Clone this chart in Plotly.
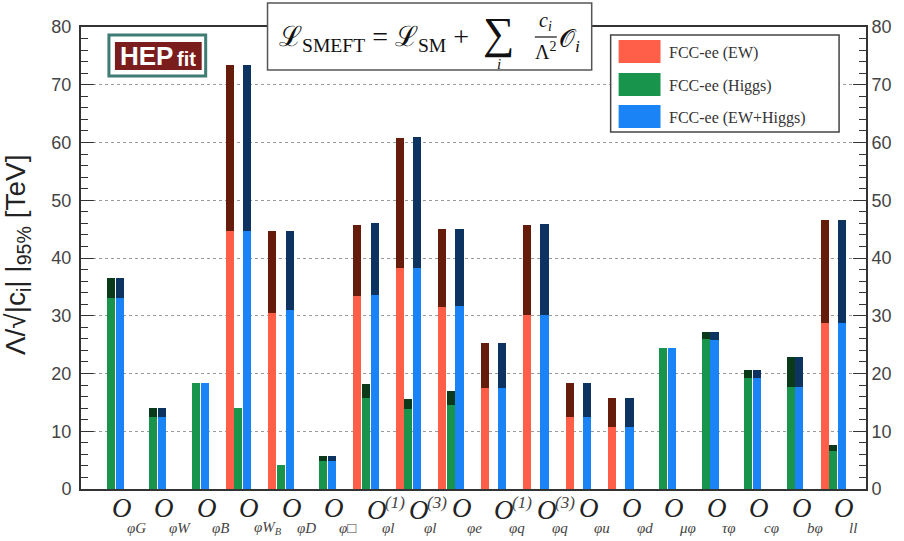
import plotly.graph_objects as go

# ---------------- data ----------------
categories = ["φG", "φW", "φB", "φWB", "φD", "φ□", "φl(1)", "φl(3)", "φe",
              "φq(1)", "φq(3)", "φu", "φd", "μφ", "τφ", "cφ", "bφ", "ll"]
label_sub = ["φG", "φW", "φB", "φW<sub>B</sub>", "φD", "φ□", "φl", "φl", "φe",
             "φq", "φq", "φu", "φd", "μφ", "τφ", "cφ", "bφ", "ll"]
label_sup = ["", "", "", "", "", "", "(1)", "(3)", "", "(1)", "(3)", "", "", "", "", "", "", ""]

ew_base = [0, 0, 0, 44.7, 30.5, 0, 33.4, 38.2, 31.5, 17.5, 30.2, 12.4, 10.7, 0, 0, 0, 0, 28.7]
ew_full = [0, 0, 0, 73.4, 44.6, 0, 45.7, 60.7, 45.0, 25.2, 45.8, 18.3, 15.8, 0, 0, 0, 0, 46.5]
higgs_base = [33.0, 12.5, 18.3, 14.0, 4.2, 4.9, 15.7, 13.8, 14.5, 0, 0, 0, 0, 24.5, 25.9, 19.3, 17.7, 6.5]
higgs_full = [36.5, 14.0, 18.3, 14.0, 4.2, 5.7, 18.1, 15.5, 16.9, 0, 0, 0, 0, 24.5, 27.2, 20.6, 22.9, 7.6]
comb_base = [33.0, 12.5, 18.3, 44.7, 31.0, 4.9, 33.6, 38.2, 31.7, 17.5, 30.2, 12.4, 10.7, 24.5, 25.8, 19.3, 17.7, 28.8]
comb_full = [36.5, 14.0, 18.3, 73.4, 44.6, 5.7, 46.0, 61.0, 45.1, 25.3, 45.9, 18.3, 15.8, 24.5, 27.2, 20.6, 22.9, 46.5]

series_names = ["FCC-ee (EW)", "FCC-ee (Higgs)", "FCC-ee (EW+Higgs)"]
y_ticks = [0, 10, 20, 30, 40, 50, 60, 70, 80]

# ---------------- style ----------------
W, H = 904, 541
ML, MR, MT, MB = 81, 36, 27, 52
PW, PH = W - ML - MR, H - MT - MB

light_cols = ["#FF5F48", "#19944C", "#1A84F7"]
dark_cols = ["#661C0A", "#0B3A1A", "#0D3461"]
bar_w = 0.19
offsets = [-0.299, -0.095, 0.109]

def px_x(p):
    return (p - ML) / PW

def px_y(p):
    return (H - MB - p) / PH

xs = list(range(len(categories)))
fig = go.Figure()

for k, (base, full) in enumerate([(ew_base, ew_full), (higgs_base, higgs_full), (comb_base, comb_full)]):
    fig.add_trace(go.Bar(x=xs, y=full, width=bar_w, offset=offsets[k],
                         marker=dict(color=dark_cols[k], line=dict(width=0)),
                         showlegend=False, hoverinfo="skip"))
    fig.add_trace(go.Bar(x=xs, y=base, width=bar_w, offset=offsets[k],
                         marker=dict(color=light_cols[k], line=dict(width=0)),
                         name=series_names[k], showlegend=False))

# invisible trace for the right axis
fig.add_trace(go.Scatter(x=[0], y=[0], yaxis="y2", mode="markers",
                         marker=dict(opacity=0), showlegend=False, hoverinfo="skip"))

axis_font = dict(family="Liberation Sans, Arial, sans-serif", size=18, color="#444")
yax_common = dict(range=[0, 80], tickvals=y_ticks, ticks="inside", ticklen=13, tickwidth=1,
                  tickcolor="#333", showline=True, linewidth=2, linecolor="#333",
                  zeroline=False, tickfont=axis_font,
                  minor=dict(dtick=2, ticks="inside", ticklen=7, tickwidth=1, tickcolor="#333",
                             showgrid=False))

fig.update_layout(
    width=W, height=H,
    margin=dict(l=ML, r=MR, t=MT, b=MB),
    paper_bgcolor="white", plot_bgcolor="white",
    barmode="overlay", bargap=0,
    xaxis=dict(range=[-0.704, 17.77], showticklabels=False, ticks="", showgrid=False,
               zeroline=False, showline=True, linewidth=2, linecolor="#333", mirror=True),
    yaxis=dict(**yax_common, showgrid=True, gridcolor="#9a9a9a", griddash="dot", gridwidth=1,
               ticklabelstandoff=4),
    yaxis2=dict(**yax_common, overlaying="y", side="right", showgrid=False),
)

shapes = []
ann = []

# ---- x labels ----
for i in xs:
    has_sup = label_sup[i] != ""
    oy = 510 if has_sup else 508
    ann.append(dict(x=i, y=px_y(oy), xref="x", yref="paper", text="<i>O</i>", showarrow=False,
                    xanchor="left", yanchor="middle", xshift=-1,
                    font=dict(family="Liberation Serif, serif", size=27, color="#222")))
    ann.append(dict(x=i, y=px_y(528), xref="x", yref="paper", text="<i>" + label_sub[i] + "</i>",
                    showarrow=False, xanchor="left", yanchor="middle", xshift=14,
                    font=dict(family="Liberation Serif, serif", size=15, color="#444")))
    if has_sup:
        ann.append(dict(x=i, y=px_y(502), xref="x", yref="paper", text="<i>" + label_sup[i] + "</i>",
                        showarrow=False, xanchor="left", yanchor="middle", xshift=17,
                        font=dict(family="Liberation Serif, serif", size=17, color="#444")))

# ---- y title ----
ann.append(dict(x=px_x(17), y=px_y(255), xref="paper", yref="paper", textangle=-90,
                text="Λ/√|c<sub>i</sub>| |<sub>95%</sub> [TeV]", showarrow=False,
                xanchor="center", yanchor="middle",
                font=dict(family="Liberation Sans, Arial, sans-serif", size=28, color="#222")))

# ---- formula box ----
shapes.append(dict(type="rect", xref="paper", yref="paper", x0=px_x(268), x1=px_x(593),
                   y0=px_y(70), y1=px_y(3), line=dict(color="#555", width=1.5),
                   fillcolor="white", layer="above"))
serif = "Liberation Serif, DejaVu Serif, serif"
ann.append(dict(x=px_x(277), y=px_y(38), xref="paper", yref="paper", showarrow=False,
                xanchor="left", yanchor="middle",
                text="ℒ<sub>SMEFT</sub> = ℒ<sub>SM</sub> +",
                font=dict(family=serif, size=28, color="#111")))
ann.append(dict(x=px_x(500), y=px_y(33), xref="paper", yref="paper", showarrow=False,
                xanchor="center", yanchor="middle", text="∑",
                font=dict(family=serif, size=44, color="#111")))
ann.append(dict(x=px_x(500), y=px_y(64), xref="paper", yref="paper", showarrow=False,
                xanchor="center", yanchor="middle", text="<i>i</i>",
                font=dict(family=serif, size=15, color="#111")))
ann.append(dict(x=px_x(547), y=px_y(21), xref="paper", yref="paper", showarrow=False,
                xanchor="center", yanchor="middle", text="<i>c<sub>i</sub></i>",
                font=dict(family=serif, size=20, color="#111")))
shapes.append(dict(type="line", xref="paper", yref="paper", x0=px_x(536), x1=px_x(558),
                   y0=px_y(37), y1=px_y(37), line=dict(color="#111", width=1.2), layer="above"))
ann.append(dict(x=px_x(547), y=px_y(51), xref="paper", yref="paper", showarrow=False,
                xanchor="center", yanchor="middle", text="Λ<sup>2</sup>",
                font=dict(family=serif, size=20, color="#111")))
ann.append(dict(x=px_x(558), y=px_y(40), xref="paper", yref="paper", showarrow=False,
                xanchor="left", yanchor="middle", text="𝒪<sub><i>i</i></sub>",
                font=dict(family=serif, size=25, color="#111")))

# ---- legend ----
shapes.append(dict(type="rect", xref="paper", yref="paper", x0=px_x(612), x1=px_x(841),
                   y0=px_y(132), y1=px_y(35), line=dict(color="#444", width=1.5),
                   fillcolor="white", layer="above"))
for k, (yt, yb) in enumerate([(40, 63), (73, 96), (105, 128)]):
    shapes.append(dict(type="rect", xref="paper", yref="paper", x0=px_x(620), x1=px_x(662),
                       y0=px_y(yb), y1=px_y(yt), line=dict(width=0),
                       fillcolor=light_cols[k], layer="above"))
    ann.append(dict(x=px_x(668), y=px_y((yt + yb) / 2 + 1), xref="paper", yref="paper",
                    showarrow=False, xanchor="left", yanchor="middle", text=series_names[k],
                    font=dict(family=serif, size=16, color="#333")))

# ---- HEPfit logo ----
shapes.append(dict(type="rect", xref="paper", yref="paper", x0=px_x(109), x1=px_x(206),
                   y0=px_y(76), y1=px_y(35), line=dict(color="#3E7C74", width=3),
                   fillcolor="white", layer="above"))
shapes.append(dict(type="rect", xref="paper", yref="paper", x0=px_x(115), x1=px_x(202),
                   y0=px_y(70), y1=px_y(42), line=dict(width=0),
                   fillcolor="#7B1D1D", layer="above"))
ann.append(dict(x=px_x(118), y=px_y(56), xref="paper", yref="paper", showarrow=False,
                xanchor="left", yanchor="middle", text="<b>HEP</b>",
                font=dict(family="Liberation Sans, Arial, sans-serif", size=26, color="white")))
ann.append(dict(x=px_x(175), y=px_y(59), xref="paper", yref="paper", showarrow=False,
                xanchor="left", yanchor="middle", text="<b>fit</b>",
                font=dict(family="Liberation Sans, Arial, sans-serif", size=20, color="white")))

fig.update_layout(shapes=shapes, annotations=ann)
fig.write_html("out.html", config={"displayModeBar": False},
               post_script="document.body.style.margin='0';")
